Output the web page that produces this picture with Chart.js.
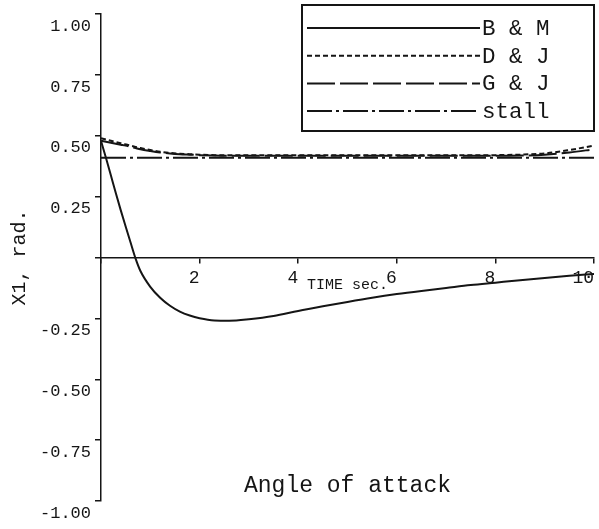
<!DOCTYPE html>
<html>
<head>
<meta charset="utf-8">
<script src="https://cdn.jsdelivr.net/npm/chart.js@4.4.1/dist/chart.umd.min.js"></script>
<style>
  html, body { margin: 0; padding: 0; background: #fff; }
</style>
</head>
<body>
<canvas id="myChart" width="599" height="529"></canvas>
<script>
var timeValues = [0, 0.1, 0.2, 0.3, 0.4, 0.5, 0.6, 0.7, 0.8, 1.0, 1.2, 1.4, 1.6, 1.8, 2.0, 2.3, 2.6, 3.0,
                  3.5, 4.0, 4.5, 5.0, 5.5, 6.0, 6.5, 7.0, 7.5, 8.0, 8.5, 9.0, 9.5, 10];
var bmValues = [0.48, 0.41, 0.338, 0.265, 0.195, 0.128, 0.062, -0.003, -0.055, -0.12, -0.165, -0.198, -0.222, -0.238, -0.249, -0.258, -0.259, -0.253,
                -0.24, -0.219, -0.2, -0.182, -0.165, -0.15, -0.137, -0.125, -0.113, -0.103, -0.093, -0.084, -0.075, -0.067];
var djValues = [0.49, 0.485, 0.48, 0.475, 0.47, 0.465, 0.46, 0.455, 0.45, 0.442, 0.435, 0.43, 0.427, 0.425, 0.423, 0.421, 0.42, 0.42,
                0.42, 0.42, 0.42, 0.42, 0.42, 0.42, 0.42, 0.42, 0.42, 0.421, 0.423, 0.428, 0.442, 0.46];
var gjValues = [0.48, 0.476, 0.472, 0.468, 0.464, 0.46, 0.455, 0.45, 0.445, 0.438, 0.432, 0.428, 0.425, 0.423, 0.421, 0.419, 0.418, 0.418,
                0.418, 0.418, 0.418, 0.418, 0.418, 0.418, 0.418, 0.418, 0.418, 0.418, 0.419, 0.423, 0.432, 0.445];
var stallValues = [0.41, 0.41, 0.41, 0.41, 0.41, 0.41, 0.41, 0.41, 0.41, 0.41, 0.41, 0.41, 0.41, 0.41, 0.41, 0.41, 0.41, 0.41,
                   0.41, 0.41, 0.41, 0.41, 0.41, 0.41, 0.41, 0.41, 0.41, 0.41, 0.41, 0.41, 0.41, 0.41];
var seriesNames = ["B & M", "D & J", "G & J", "stall"];
var seriesDash = [[], [5, 3], [28, 5], [25, 4, 3, 4]];

var ink = '#151515';
var mono = "'Liberation Mono', 'Courier New', monospace";

function points(values) {
  return timeValues.map(function (t, i) { return { x: t, y: values[i] }; });
}

// legend box drawn in the upper right corner of the plot, plus the caption
var plotNotes = {
  id: 'plotNotes',
  afterDraw: function (chart) {
    var ctx = chart.ctx;
    var area = chart.chartArea;
    var left = 302, top = 5, right = area.right, bottom = 131;
    ctx.save();
    ctx.strokeStyle = ink;
    ctx.lineWidth = 2;
    ctx.strokeRect(left, top, right - left, bottom - top);

    ctx.font = '22.5px ' + mono;
    ctx.fillStyle = ink;
    ctx.textBaseline = 'middle';
    chart.data.datasets.forEach(function (ds, i) {
      var y = 28 + i * 27.7;
      ctx.beginPath();
      ctx.setLineDash(ds.borderDash || []);
      ctx.lineWidth = 2;
      ctx.moveTo(307, y);
      ctx.lineTo(480, y);
      ctx.stroke();
      ctx.setLineDash([]);
      ctx.fillText(ds.label, 482, y + 1);
    });

    var xs = chart.scales.x, ys = chart.scales.y;
    ctx.font = '23px ' + mono;
    ctx.textAlign = 'left';
    ctx.fillText('Angle of attack', xs.getPixelForValue(2.9), ys.getPixelForValue(-0.94));
    ctx.restore();
  }
};

new Chart("myChart", {
  type: "line",
  data: {
    datasets: [bmValues, djValues, gjValues, stallValues].map(function (vals, i) {
      return {
        label: seriesNames[i],
        data: points(vals),
        borderColor: ink,
        borderWidth: 2,
        borderDash: seriesDash[i],
        pointRadius: 0,
        fill: false,
        cubicInterpolationMode: 'monotone'
      };
    })
  },
  options: {
    responsive: false,
    animation: false,
    layout: { padding: { top: 12, right: 4, left: 0, bottom: 28 } },
    plugins: {
      legend: { display: false },
      tooltip: { enabled: false }
    },
    scales: {
      x: {
        type: 'linear',
        min: 0,
        max: 10,
        position: { y: 0 },
        border: { color: ink, width: 1.5 },
        grid: { drawOnChartArea: false, tickLength: 5, color: ink, lineWidth: 1.5 },
        ticks: {
          stepSize: 2,
          align: 'end',
          padding: 5,
          color: ink,
          font: { family: mono, size: 18 },
          callback: function (v) { return v === 0 ? '' : v; }
        },
        title: {
          display: true,
          text: 'TIME sec.',
          color: ink,
          font: { family: mono, size: 15 },
          padding: { top: 0, bottom: -8 }
        },
        afterFit: function (scale) { scale.height = 28; }
      },
      y: {
        min: -1,
        max: 1,
        border: { color: ink, width: 1.5 },
        grid: { drawOnChartArea: false, tickLength: 6, color: ink, lineWidth: 1.5 },
        ticks: {
          stepSize: 0.25,
          padding: 4,
          labelOffset: 12,
          color: ink,
          font: { family: mono, size: 17 },
          callback: function (v) { return Math.abs(v) < 1e-9 ? '' : v.toFixed(2); }
        },
        title: {
          display: true,
          text: 'X1, rad.',
          color: ink,
          font: { family: mono, size: 20 },
          padding: { top: 8, bottom: 0 }
        },
        afterFit: function (scale) { scale.width = 101; }
      }
    }
  },
  plugins: [plotNotes]
});
</script>
</body>
</html>
